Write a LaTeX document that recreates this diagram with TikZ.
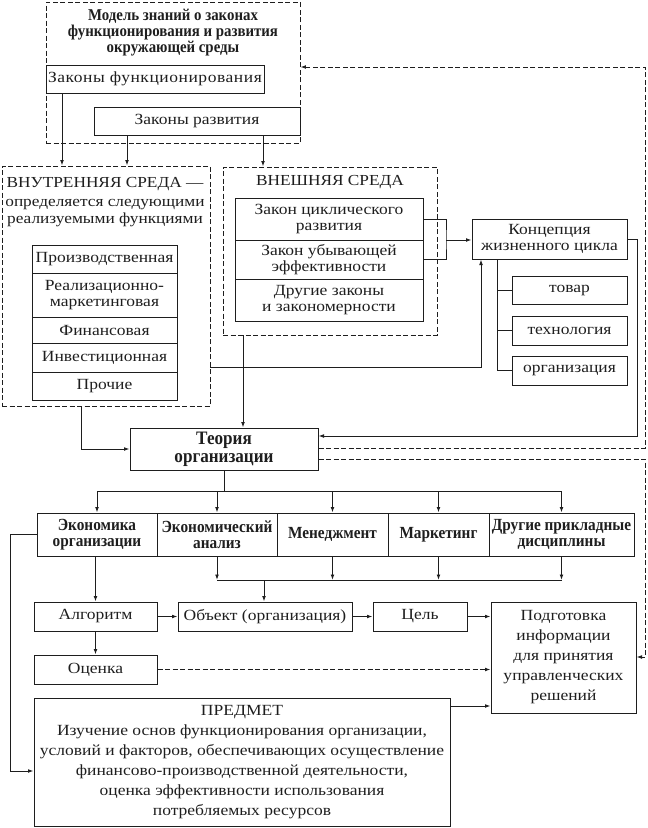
\documentclass[tikz,border=0pt]{standalone}
\usepackage{fontspec}
\setmainfont{Liberation Serif}[FakeStretch=1.13]
\newfontfamily\bcond{Liberation Serif}[FakeStretch=0.9]
\newfontfamily\lsfont{Liberation Serif}[FakeStretch=1.13, LetterSpace=3.5]
\usetikzlibrary{arrows.meta}
\definecolor{ink}{HTML}{1E1E1E}
\begin{document}
\begin{tikzpicture}[x=1pt,y=-1pt,
  every node/.style={text=ink},
  box/.style={draw=ink, line width=1pt, inner sep=0pt, align=center,
    font=\fontsize{15.5}{15.5}\selectfont},
  bbox/.style={box, font=\bcond\bfseries\fontsize{17}{15.5}\selectfont},
  dbox/.style={draw=ink, line width=0.9pt, dash pattern=on 5pt off 2.5pt, inner sep=0pt},
  txt/.style={inner sep=0pt, align=center, font=\fontsize{15.3}{17}\selectfont},
  ln/.style={draw=ink, line width=0.95pt},
  arr/.style={ln, -{Latex[length=5.5pt,width=3.8pt]}},
  darr/.style={arr, line width=0.9pt, dash pattern=on 5pt off 2.5pt}]
\useasboundingbox (0,0) rectangle (648,828);

% ---- model of laws ----
\node[dbox, minimum width=254, minimum height=141] (model) at (173,72.5) {};
\node[txt, font=\bcond\bfseries\fontsize{16.5}{16}\selectfont] (modelt) at (173,33)
  {Модель знаний о законах\\функционирования и развития\\окружающей среды};
\node[box, minimum width=218, minimum height=28, font=\lsfont\fontsize{15.5}{15.5}\selectfont] (lawf) at (155,79) {Законы функционирования};
\node[box, minimum width=206, minimum height=28] (lawr) at (197,121) {Законы развития};

% ---- internal environment ----
\node[dbox, minimum width=208, minimum height=240] (inner) at (106,286) {};
\node[txt] (innert) at (105,184) {ВНУТРЕННЯЯ СРЕДА —};
\node[txt] (innert2) at (105,213.5) {определяется следующими\\реализуемыми функциями};
\node[box, minimum width=145, minimum height=28] (f1) at (104.5,259) {Производственная};
\node[box, minimum width=145, minimum height=44] (f2) at (104.5,295) {Реализационно-\\маркетинговая};
\node[box, minimum width=145, minimum height=26] (f3) at (104.5,330) {Финансовая};
\node[box, minimum width=145, minimum height=29] (f4) at (104.5,357.5) {Инвестиционная};
\node[box, minimum width=145, minimum height=28] (f5) at (104.5,386) {Прочие};

% ---- external environment ----
\node[dbox, minimum width=214, minimum height=168] (outer) at (330,251) {};
\node[txt] (outert) at (330,182) {ВНЕШНЯЯ СРЕДА};
\node[box, minimum width=188, minimum height=42] (e1) at (329,219) {Закон циклического\\развития};
\node[box, minimum width=188, minimum height=39, font=\fontsize{15.5}{16}\selectfont] (e2) at (329,259.5) {Закон убывающей\\эффективности};
\node[box, minimum width=188, minimum height=42, font=\fontsize{15.5}{16}\selectfont] (e3) at (329,300) {Другие законы\\и закономерности};

% ---- life cycle ----
\node[box, minimum width=155, minimum height=40, font=\fontsize{15.5}{16}\selectfont] (concept) at (549.5,239) {Концепция\\жизненного цикла};
\node[box, minimum width=115, minimum height=28] (tovar) at (569.5,290) {товар};
\node[box, minimum width=115, minimum height=29] (tech) at (569.5,330.5) {технология};
\node[box, minimum width=115, minimum height=29] (orgb) at (569.5,370.5) {организация};

% ---- theory ----
\node[bbox, minimum width=188, minimum height=42, font=\bcond\bfseries\fontsize{19}{18}\selectfont] (theory) at (224,449) {Теория\\организации};

% ---- disciplines ----
\node[bbox, minimum width=120, minimum height=43] (d1) at (97,534.5) {Экономика\\организации};
\node[bbox, minimum width=120, minimum height=43] (d2) at (217,534.5) {Экономический\\анализ};
\node[bbox, minimum width=111, minimum height=43] (d3) at (332.5,534.5) {Менеджмент};
\node[bbox, minimum width=101, minimum height=43] (d4) at (438.5,534.5) {Маркетинг};
\node[bbox, minimum width=145, minimum height=43] (d5) at (561.5,534.5) {Другие прикладные\\дисциплины};

% ---- bottom ----
\node[box, minimum width=123, minimum height=29] (alg) at (95.5,616.5) {Алгоритм};
\node[box, minimum width=174, minimum height=29] (obj) at (265,616.5) {Объект (организация)};
\node[box, minimum width=94, minimum height=29] (goal) at (420,616.5) {Цель};
\node[box, minimum width=145, minimum height=111, font=\fontsize{15.5}{20}\selectfont] (prep) at (563.5,657.5)
  {Подготовка\\информации\\для принятия\\управленческих\\решений};
\node[box, minimum width=123, minimum height=29] (ocen) at (95.5,669.5) {Оценка};
\node[box, minimum width=416, minimum height=128, font=\fontsize{15.5}{20}\selectfont] (predmet) at (242,762)
  {ПРЕДМЕТ\\Изучение основ функционирования организации,\\условий и факторов, обеспечивающих осуществление\\финансово-производственной деятельности,\\оценка эффективности использования\\потребляемых ресурсов};

% ---- helper coordinates ----
\coordinate (a1) at (62,0);
\coordinate (a2) at (127,0);
\coordinate (a3) at (263,0);
\coordinate (br) at (446,240);
\coordinate (tr) at (497,0);
\coordinate (ic) at (481,367);
\coordinate (ot) at (243,0);
\coordinate (it) at (81,449);
\coordinate (ct) at (637,436);
\coordinate (dr1) at (645,448);
\coordinate (dtop) at (645,67);
\coordinate (dr2) at (645,459);
\coordinate (dbot) at (645,657);
\coordinate (dist) at (224,491);
\coordinate (col) at (264,580);
\coordinate (lft) at (10,771);
\coordinate (pp) at (450,706);

% ---- connectors ----
\draw[arr] (lawf.south -| a1) -- (inner.north -| a1);
\draw[arr] (lawr.south -| a2) -- (inner.north -| a2);
\draw[arr] (lawr.south -| a3) -- (outer.north -| a3);

\draw[ln] (e1.east) -| (br) |- (e2.east);
\draw[arr] (br) -- (concept.west |- br);

\draw[ln] (concept.south -| tr) |- (orgb.west);
\draw[ln] (tovar.west -| tr) -- (tovar.west);
\draw[ln] (tech.west -| tr) -- (tech.west);

\draw[arr] (inner.east |- ic) -- (ic) -- (ic |- concept.south);
\draw[arr] (outer.south -| ot) -- (theory.north -| ot);
\draw[arr] (inner.south -| it) -- (it) -- (theory.west |- it);
\draw[arr] (concept.east) -| (ct) -- (theory.east |- ct);

\draw[darr] (theory.east |- dr1) -- (dr1) -- (dtop) -- (model.east |- dtop);
\draw[darr] (theory.east |- dr2) -- (dr2) -- (dbot) -- (prep.east |- dbot);

\draw[ln] (theory.south) -- (dist);
\draw[ln] (d1.north |- dist) -- (d5.north |- dist);
\foreach \d in {d1,d2,d3,d4,d5} \draw[arr] (\d.north |- dist) -- (\d.north);

\foreach \d in {d2,d3,d4,d5} \draw[arr] (\d.south) -- (\d.south |- col);
\draw[ln] (d2.south |- col) -- (d5.south |- col);
\draw[arr] (col) -- (col |- obj.north);

\draw[arr] (d1.south -| alg.north) -- (alg.north);
\draw[arr] (alg.east) -- (obj.west);
\draw[arr] (obj.east) -- (goal.west);
\draw[arr] (goal.east) -- (prep.west |- goal.east);
\draw[arr] (alg.south) -- (ocen.north);
\draw[darr] (ocen.east) -- (prep.west |- ocen.east);
\draw[arr] (predmet.east |- pp) -- (prep.west |- pp);
\draw[arr] (d1.west) -| (lft) -- (predmet.west |- lft);
\end{tikzpicture}
\end{document}
